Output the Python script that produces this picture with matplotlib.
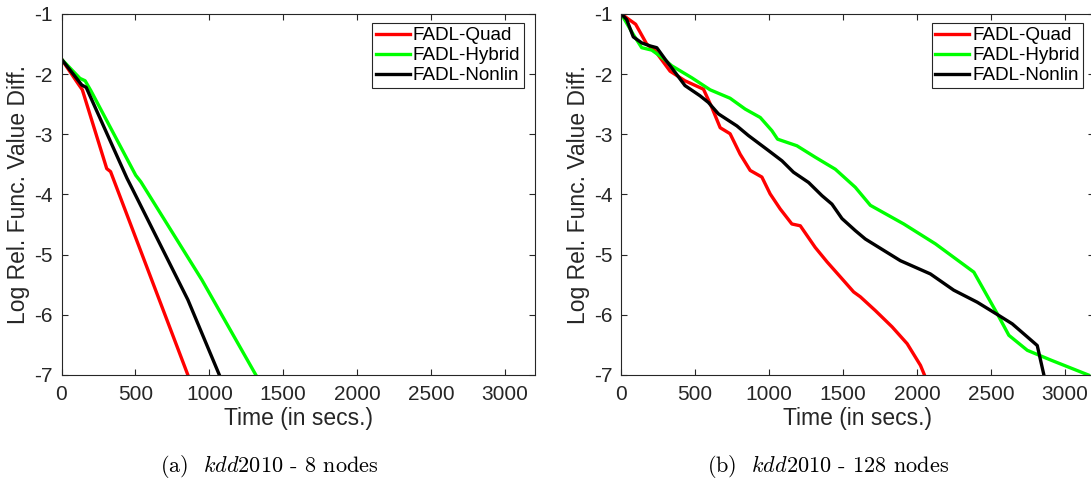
import matplotlib
matplotlib.use("Agg")
import matplotlib.pyplot as plt

plt.rcParams.update({
    "font.family": ["Liberation Sans", "DejaVu Sans"],
    "font.size": 15,
    "axes.unicode_minus": False,
    "mathtext.fontset": "cm",
    "axes.edgecolor": "#262626",
    "xtick.color": "#262626",
    "ytick.color": "#262626",
    "axes.labelcolor": "#262626",
})

labels = ["FADL-Quad", "FADL-Hybrid", "FADL-Nonlin"]
colors = ["#ff0000", "#00ff00", "#000000"]

# (a) kdd2010 - 8 nodes
quad8_t = [0, 110, 141, 306, 332, 855]
quad8_v = [-1.75, -2.15, -2.26, -3.57, -3.62, -7.0]
hyb8_t = [0, 125, 160, 200, 502, 537, 950, 1315]
hyb8_v = [-1.75, -2.07, -2.11, -2.28, -3.68, -3.79, -5.42, -7.0]
non8_t = [0, 137, 167, 443, 478, 855, 1068]
non8_v = [-1.75, -2.18, -2.22, -3.73, -3.90, -5.75, -7.0]

# (b) kdd2010 - 128 nodes
quad128_t = [0, 97, 172, 228, 330, 431, 556, 612, 669, 736, 804, 872, 951,
             1007, 1075, 1154, 1211, 1312, 1392, 1493, 1572, 1617, 1719,
             1832, 1934, 2024, 2051]
quad128_v = [-1.0, -1.17, -1.50, -1.61, -1.95, -2.11, -2.25, -2.55, -2.89,
             -2.99, -3.33, -3.60, -3.71, -3.99, -4.24, -4.49, -4.52, -4.88,
             -5.12, -5.40, -5.62, -5.70, -5.93, -6.20, -6.48, -6.84, -7.0]
hyb128_t = [0, 81, 138, 206, 274, 341, 477, 601, 736, 838, 940, 1019, 1057,
            1188, 1312, 1448, 1583, 1685, 1911, 2125, 2385, 2543, 2622, 2747,
            2904, 3160]
hyb128_v = [-1.0, -1.34, -1.56, -1.60, -1.72, -1.86, -2.06, -2.26, -2.40,
            -2.58, -2.72, -2.94, -3.08, -3.19, -3.38, -3.58, -3.88, -4.18,
            -4.49, -4.82, -5.29, -5.98, -6.34, -6.59, -6.75, -7.0]
non128_t = [0, 36, 81, 138, 194, 240, 296, 364, 431, 533, 589, 657, 782, 860,
            996, 1087, 1165, 1267, 1358, 1425, 1493, 1583, 1651, 1888, 2091,
            2249, 2408, 2554, 2645, 2814, 2859]
non128_v = [-1.0, -1.09, -1.38, -1.48, -1.53, -1.56, -1.75, -1.97, -2.19,
            -2.36, -2.47, -2.66, -2.86, -3.02, -3.27, -3.44, -3.63, -3.80,
            -4.02, -4.16, -4.40, -4.60, -4.74, -5.10, -5.32, -5.59, -5.79,
            -6.01, -6.15, -6.51, -7.0]

xticks = [0, 500, 1000, 1500, 2000, 2500, 3000]
yticks = [-7, -6, -5, -4, -3, -2, -1]

captions = [r"(a)  $\mathit{kdd2010}$ - 8 nodes",
            r"(b)  $\mathit{kdd2010}$ - 128 nodes"]

panels = [
    [(quad8_t, quad8_v), (hyb8_t, hyb8_v), (non8_t, non8_v)],
    [(quad128_t, quad128_v), (hyb128_t, hyb128_v), (non128_t, non128_v)],
]

fig = plt.figure(figsize=(10.91, 4.78), dpi=100)
W, H = 1091.0, 478.0
positions = [
    [61.5 / W, (H - 375) / H, 473 / W, 361 / H],
    [621.3 / W, (H - 375) / H, 473 / W, 361 / H],
]
caption_x = [269 / W, 828 / W]

for i, (pos, series) in enumerate(zip(positions, panels)):
    ax = fig.add_axes(pos)
    for (t, v), lab, c in zip(series, labels, colors):
        ax.plot(t, v, color=c, lw=2.4, label=lab)
    ax.set_xlim(0, 3200)
    ax.set_ylim(-7, -1)
    ax.set_xticks(xticks)
    ax.set_yticks(yticks)
    ax.tick_params(direction="in", length=4, width=0.8, top=True, right=True,
                   labelsize=15)
    ax.tick_params(axis="x", pad=7)
    ax.tick_params(axis="y", pad=6.5)
    for sp in ax.spines.values():
        sp.set_linewidth(0.8)
    ax.set_xlabel("Time (in secs.)", fontsize=16.5, labelpad=2)
    ax.set_ylabel("Log Rel. Func. Value Diff.", fontsize=16.5, labelpad=3)
    leg = ax.legend(loc="upper right", bbox_to_anchor=(0.977, 0.974),
                    borderaxespad=0, fontsize=13.6, handlelength=1.8,
                    handletextpad=0.15, labelspacing=0.14, borderpad=0.2,
                    fancybox=False, framealpha=1)
    leg.get_frame().set_edgecolor("#262626")
    leg.get_frame().set_linewidth(0.8)
    fig.text(caption_x[i], (H - 466) / H, captions[i], ha="center",
             va="center", fontsize=16, family="cmr10")

fig.savefig("out.png", dpi=100)
